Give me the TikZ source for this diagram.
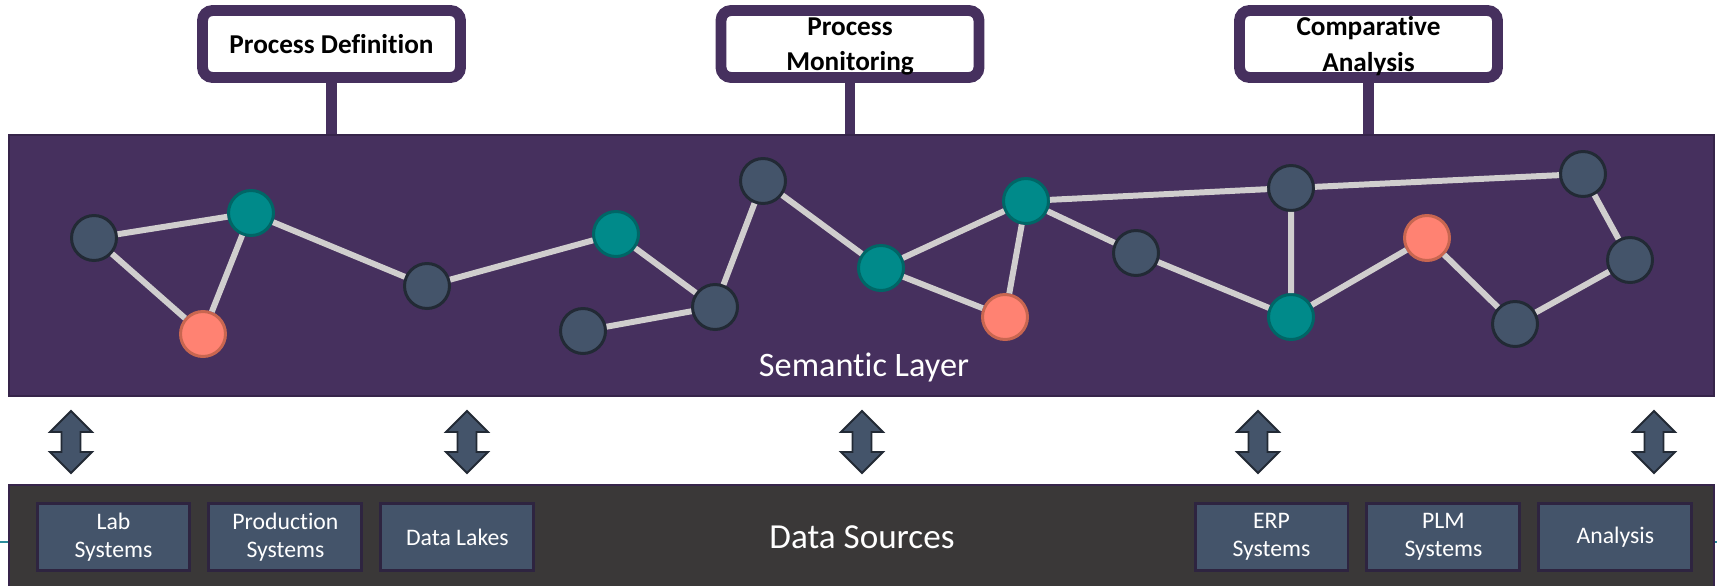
\documentclass[tikz,border=0pt]{standalone}
\usepackage{fontspec}
\setmainfont{Carlito}[Ligatures=NoCommon]
\usetikzlibrary{positioning}

\definecolor{sempurple}{HTML}{46305E}
\definecolor{semedge}{HTML}{36244A}
\definecolor{srcgray}{HTML}{3A3838}
\definecolor{slate}{HTML}{44546A}
\definecolor{slatedark}{HTML}{222A35}
\definecolor{tealfill}{HTML}{008A8A}
\definecolor{tealdark}{HTML}{006666}
\definecolor{salmonfill}{HTML}{FF8272}
\definecolor{salmondark}{HTML}{C86650}
\definecolor{linkgray}{HTML}{D0CECE}
\definecolor{boxedge}{HTML}{2E2440}
\definecolor{thinteal}{HTML}{2A8C9C}

\begin{document}
\begin{tikzpicture}[
  x=0.02cm, y=-0.02cm,
  topbox/.style={
    draw=sempurple, line width=6.2pt, fill=white, rounded corners=5.7pt,
    minimum width=5.16cm, minimum height=1.34cm, text depth=0pt,
    font=\fontsize{15.5}{20}\selectfont\bfseries, align=center, inner sep=0pt
  },
  stem/.style={draw=sempurple, line width=6.2pt},
  layer/.style={rectangle, line width=1.2pt, inner sep=0pt, minimum width=34.1cm},
  srcbox/.style={
    draw=boxedge, line width=1.7pt, fill=slate, text=white,
    minimum width=3.06cm, minimum height=1.34cm,
    font=\fontsize{13.5}{16}\selectfont, align=center, inner sep=0pt
  },
  dot/.style={circle, line width=1.7pt, minimum size=0.9cm, inner sep=0pt},
  dotslate/.style={dot, fill=slate, draw=slatedark},
  dotteal/.style={dot, fill=tealfill, draw=tealdark},
  dotsalmon/.style={dot, fill=salmonfill, draw=salmondark},
  link/.style={draw=linkgray, line width=3.4pt},
  layerlabel/.style={text=white, anchor=base, inner sep=0pt},
  updown/.pic={
    \filldraw[fill=slate, draw=slatedark, line width=1.1pt]
      (0,-31) -- (21,-10) -- (9.5,-10) -- (9.5,10) -- (21,10) -- (0,31)
      -- (-21,10) -- (-9.5,10) -- (-9.5,-10) -- (-21,-10) -- cycle;
  },
]
\useasboundingbox (0,0) rectangle (1717,585);

% layers
\node[layer, fill=sempurple, draw=semedge, minimum height=5.22cm] (sem) at (861.5,265.5) {};
\draw[thinteal, line width=1.1pt] (0,542) -- (1717,542);
\node[layer, fill=srcgray, draw=semedge, minimum height=2.1cm] (src) at (861.5,537.5) {};

% top boxes
\node[topbox] (pd) at (331.5,44) {Process Definition};
\node[topbox] (pm) at (850,44) {Process\\Monitoring};
\node[topbox] (ca) at (1368.5,44) {Comparative\\Analysis};
\draw[stem] (pd.south) -- (pd.south |- sem.north);
\draw[stem] (pm.south) -- (pm.south |- sem.north);
\draw[stem] (ca.south) -- (ca.south |- sem.north);

% graph
\node[dotslate] (v1) at (94,238) {};
\node[dotteal] (v2) at (251,213) {};
\node[dotsalmon] (v3) at (203,334) {};
\node[dotslate] (v4) at (427,286) {};
\node[dotteal] (v5) at (616,234) {};
\node[dotslate] (v6) at (583,331) {};
\node[dotslate] (v7) at (715,307) {};
\node[dotslate] (v8) at (763,181) {};
\node[dotteal] (v9) at (881,268) {};
\node[dotsalmon] (v10) at (1005,317) {};
\node[dotteal] (v11) at (1026,201) {};
\node[dotslate] (v12) at (1136,253) {};
\node[dotslate] (v13) at (1291,188) {};
\node[dotteal] (v14) at (1291,317) {};
\node[dotsalmon] (v15) at (1427,238) {};
\node[dotslate] (v16) at (1515,324) {};
\node[dotslate] (v17) at (1630,260) {};
\node[dotslate] (v18) at (1583,174) {};

\draw[link] (v1) -- (v2) (v1) -- (v3) (v2) -- (v3) (v2) -- (v4)
  (v4) -- (v5) (v5) -- (v7) (v6) -- (v7) (v7) -- (v8) (v8) -- (v9)
  (v9) -- (v11) (v9) -- (v10) (v10) -- (v11) (v11) -- (v12) (v11) -- (v13)
  (v13) -- (v18) (v13) -- (v14) (v12) -- (v14) (v14) -- (v15)
  (v15) -- (v16) (v16) -- (v17) (v17) -- (v18);

\node[layerlabel, font=\fontsize{19.5}{23}\selectfont] (semlabel) at (864,376) {Semantic Layer};

% arrows
\pic at (71,442) {updown};
\pic at (467,442) {updown};
\pic at (862,442) {updown};
\pic at (1258,442) {updown};
\pic at (1654,442) {updown};

% data sources
\node[srcbox] (lab) at (113.5,537) {Lab\\Systems};
\node[srcbox, right=0.32cm of lab] (prod) {Production\\Systems};
\node[srcbox, right=0.32cm of prod] (lakes) {Data Lakes};
\node[srcbox] (erp) at (1271.5,537) {ERP\\Systems};
\node[srcbox, right=0.32cm of erp] (plm) {PLM\\Systems};
\node[srcbox, right=0.32cm of plm] (ana) {Analysis};
\node[layerlabel, font=\fontsize{20}{24}\selectfont] (srclabel) at (862,548) {Data Sources};

\end{tikzpicture}
\end{document}
